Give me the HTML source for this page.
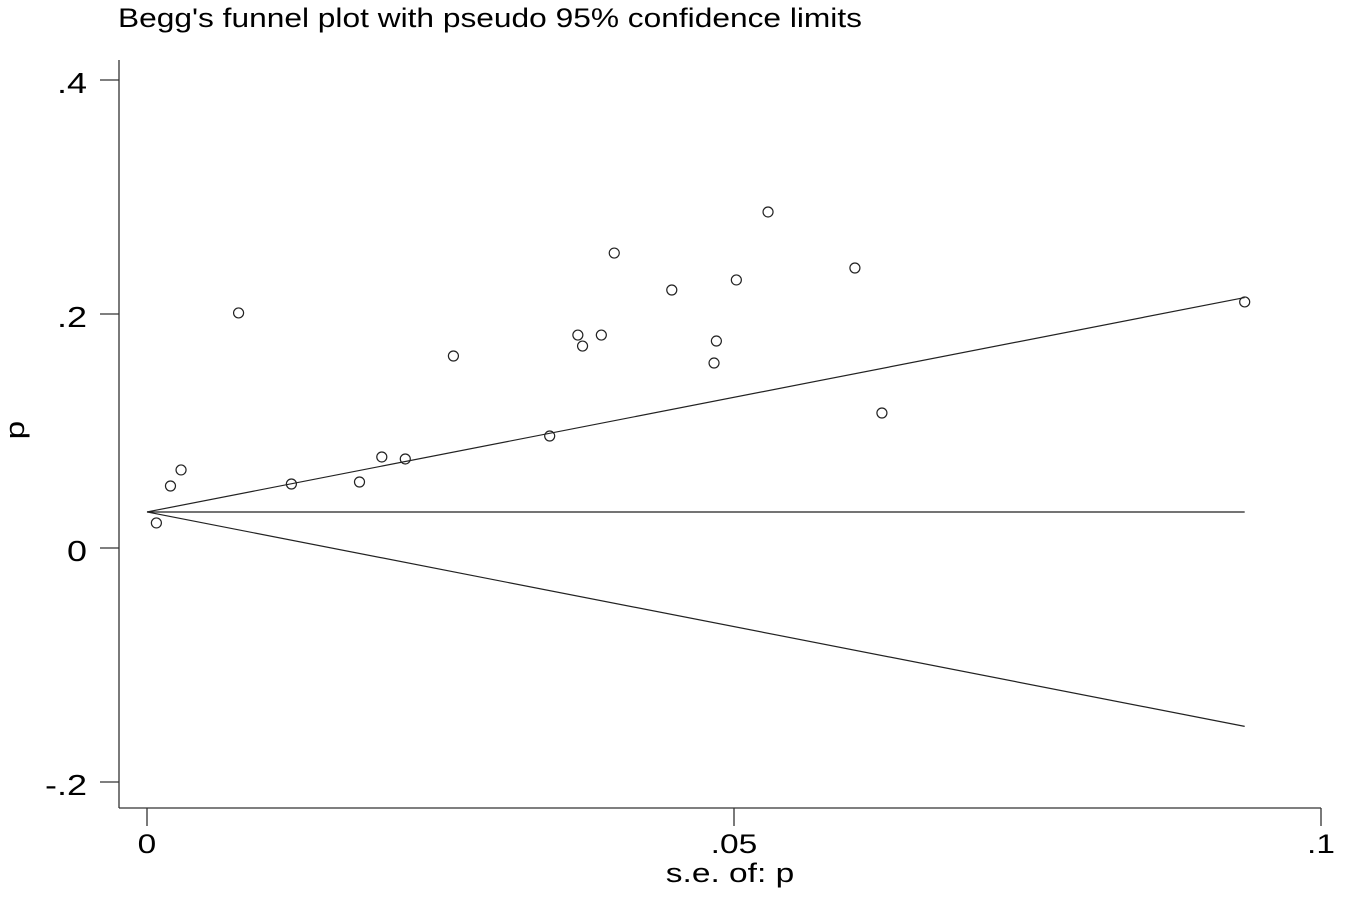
<!DOCTYPE html>
<html><head><meta charset="utf-8"><style>
html,body{margin:0;padding:0;background:#fff;}
svg text{font-family:"Liberation Sans",Arial,sans-serif;fill:#000;}
</style></head><body>
<svg id="chart" width="1350" height="894" viewBox="0 0 1350 894" xmlns="http://www.w3.org/2000/svg">
<text x="118" y="27" font-size="27" textLength="744" lengthAdjust="spacingAndGlyphs">Begg's funnel plot with pseudo 95% confidence limits</text>
<g id="axes"></g>
<g id="marks"></g>
</svg>
<script>
const seValues=[0.0008,0.002,0.0029,0.0078,0.0123,0.0181,0.02,0.022,0.0261,0.0343,0.0367,0.0371,0.0387,0.0398,0.0447,0.0483,0.0485,0.0502,0.0529,0.0603,0.0626,0.0935];
const pValues=[0.0214,0.053,0.0667,0.2009,0.0547,0.0564,0.0778,0.0761,0.1641,0.0957,0.182,0.1726,0.182,0.2521,0.2205,0.1581,0.1769,0.2291,0.2872,0.2393,0.1154,0.2103];
const pooled=[0.0308];
const xTicks=[0,0.05,0.1];
const xTickLabels=["0",".05",".1"];
const yTicks=[-0.2,0,0.2,0.4];
const yTickLabels=["-.2","0",".2",".4"];
const NS="http://www.w3.org/2000/svg";
const xs=v=>147+v*11740;
const ys=v=>548-v*1170;
const axes=document.getElementById('axes'),marks=document.getElementById('marks');
function mk(tag,attrs,parent){const e=document.createElementNS(NS,tag);for(const k in attrs)e.setAttribute(k,attrs[k]);parent.appendChild(e);return e;}
function stretch(t){const w=t.getComputedTextLength();t.setAttribute('textLength',(w*1.24).toFixed(1));t.setAttribute('lengthAdjust','spacingAndGlyphs');}
let e=mk('line',{x1:119,y1:60,x2:119,y2:808,stroke:'#333','stroke-width':1.3},axes);


e=mk('line',{x1:119,y1:808,x2:1321,y2:808,stroke:'#333','stroke-width':1.3},axes);


yTicks.forEach((t,i)=>{
 let l=mk('line',{x1:100,x2:119,y1:ys(t),y2:ys(t),stroke:'#333','stroke-width':1.3},axes);
 
 
 let tx=mk('text',{x:87,y:ys(t)+13,'text-anchor':'end','font-size':29},axes);tx.textContent=yTickLabels[i];
 
 
 stretch(tx);
});
xTicks.forEach((t,i)=>{
 let l=mk('line',{x1:xs(t),x2:xs(t),y1:808,y2:826,stroke:'#333','stroke-width':1.3},axes);
 
 
 let tx=mk('text',{x:xs(t),y:853,'text-anchor':'middle','font-size':27},axes);tx.textContent=xTickLabels[i];
 
 
 stretch(tx);
});
let xt=mk('text',{x:730,y:882,'text-anchor':'middle','font-size':27},axes);xt.textContent='s.e. of: p';


stretch(xt);
let yt=mk('text',{x:24,y:430,'text-anchor':'middle','font-size':27,transform:'rotate(-90 24 430)'},axes);yt.textContent='p';


stretch(yt);
const maxSe=Math.max(...seValues),p0=pooled[0];
[[p0,p0,'pooled-line'],[p0,p0+1.96*maxSe,'upper-limit-line'],[p0,p0-1.96*maxSe,'lower-limit-line']].forEach(d=>{
 let l=mk('line',{x1:xs(0),y1:ys(d[0]),x2:xs(maxSe),y2:ys(d[1]),stroke:'#222','stroke-width':1.2},marks);
 
 
});
seValues.forEach((s,i)=>{
 let c=mk('circle',{cx:xs(s),cy:ys(pValues[i]),r:5,fill:'none',stroke:'#222','stroke-width':1.2},marks);
 
 
});
</script>
</body></html>
